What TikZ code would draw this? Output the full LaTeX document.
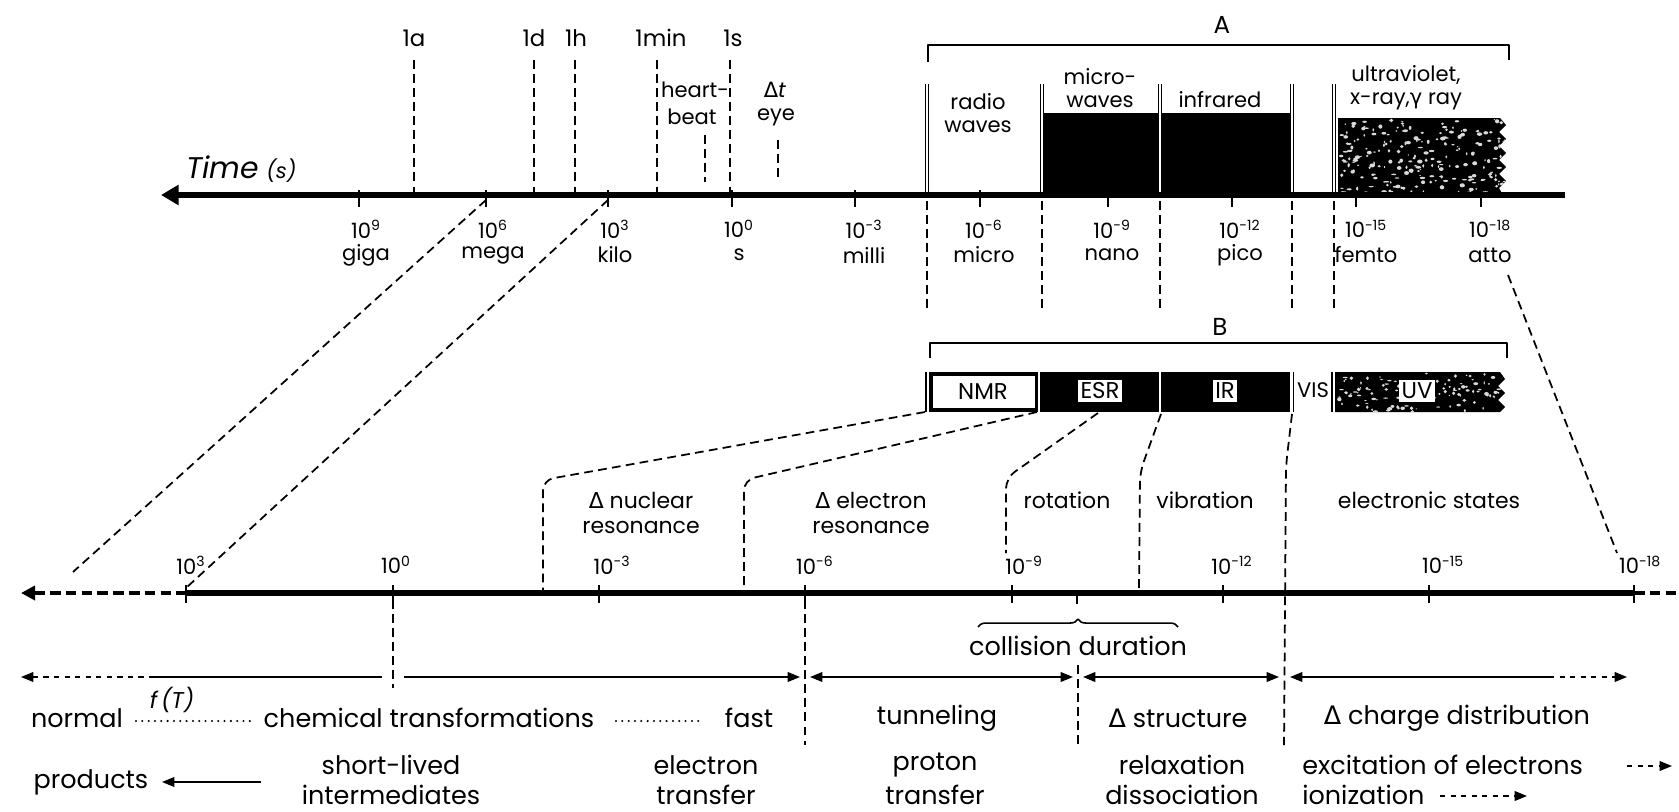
\documentclass[tikz,border=0pt]{standalone}
\usepackage{fontspec}
\setmainfont{Poppins}
\newfontfamily\grk{DejaVu Sans}
\usetikzlibrary{arrows.meta,decorations.pathreplacing}
\newcommand{\dlt}{{\grk Δ}}
\newcommand{\gmm}{{\grk γ}}
\newcommand{\tp}[1]{10\textsuperscript{#1}}
\tikzset{
  ax/.style={line width=3.2pt},
  axd/.style={line width=2.6pt, dash pattern=on 6pt off 3pt},
  tk/.style={line width=1.1pt},
  gd/.style={line width=1pt, dash pattern=on 5pt off 3pt},
  ln/.style={line width=0.9pt},
  lbl/.style={font=\fontsize{12}{14}\selectfont, inner sep=0pt},
  spec/.style={font=\fontsize{12}{14}\selectfont, inner sep=0pt},
  mid/.style={font=\fontsize{12.5}{14}\selectfont, inner sep=0pt},
  low/.style={font=\fontsize{14.5}{16}\selectfont, inner sep=0pt},
  bl/.style={font=\fontsize{13}{14}\selectfont, inner sep=1.5pt},
  dots/.style={line width=1.3pt, dash pattern=on 0pt off 3.6pt, line cap=round},
  >={Triangle[length=7pt,width=5.5pt]}
}
\begin{document}
\begin{tikzpicture}[x=0.02cm,y=-0.02cm,line join=round]
\useasboundingbox (0,0) rectangle (1679,811);
\fill[white] (0,0) rectangle (1679,811);

% ---------------- spectrum A ----------------
\fill (1044,113) rectangle (1290,195);
\begin{scope}
  \clip (1338,118) -- (1500,118) -- (1506,125) -- (1499,132) -- (1506,139) -- (1499,146) -- (1506,153) -- (1499,160) -- (1506,167) -- (1499,174) -- (1506,181) -- (1499,188) -- (1503,195) -- (1338,195) -- cycle;
  \fill (1330,110) rectangle (1510,200);
  \pgfmathsetseed{12}
  \foreach \i in {1,...,230}{
    \pgfmathsetmacro{\rx}{1340+165*rnd}
    \pgfmathsetmacro{\ry}{119+75*rnd}
    \pgfmathsetmacro{\rr}{0.4+1.2*rnd}
    \pgfmathsetmacro{\rs}{0.3+0.9*rnd}
    \fill[white!85!black] (\rx,\ry) ellipse ({\rr pt} and {\rs pt});
  }
\end{scope}
\foreach \x in {927,1042,1160,1292,1334}{
  \fill[white] (\x-1.8,84) rectangle (\x+1.8,195);
  \draw[line width=0.7pt] (\x-1.8,84) -- (\x-1.8,195) (\x+1.8,84) -- (\x+1.8,195);
}
\node[spec, align=center] (radio) at (978,113) {radio\\[-1pt]waves};
\node[spec, align=center] (micro) at (1100,88) {micro-\\[-1pt]waves};
\node[spec] (infra) at (1220,100) {infrared};
\node[spec, align=center] (uvt) at (1406,88) {ultraviolet,\\[-1pt]x-ray,\gmm{} ray};
\draw[ln] (928,62) -- (928,45) -- (1509,45) -- (1509,60);
\node[spec, font=\fontsize{14}{16}\selectfont] (labA) at (1222,25) {A};
\foreach \x in {927,1042,1160,1292,1334} \draw[gd] (\x,201) -- (\x,312);

% ---------------- top axis ----------------
\coordinate (tL) at (161,195);
\coordinate (tR) at (1565,195);
\draw[ax, {Triangle[length=10pt,width=11pt]}-] (tL) -- (tR);
\node[font=\fontsize{17}{20}\selectfont\itshape, inner sep=0pt, anchor=base west] (time) at (186,178) {Time};
\node[font=\fontsize{12}{14}\selectfont\itshape, inner sep=0pt, anchor=base west] (unit) at (266,178) {(s)};
\foreach \x in {359,486,608,732,855,980,1108,1232,1356,1481} \draw[tk] (\x,190) -- (\x,207);
\foreach \x/\e/\w [count=\i] in {366/9/giga, 493/6/mega, 615/3/kilo, 739/0/s, 864/-3/milli, 984/-6/micro, 1112/-9/nano, 1240/-12/pico, 1366/-15/femto, 1490/-18/atto}{
  \node[lbl] (te\i) at (\x,229) {\tp{\e}};
  \node[lbl] (tw\i) at (\x,255) {\w};
}
\foreach \x/\t/\lx in {414/1a/414, 534/1d/534, 575/1h/576, 657/1min/661, 730/1s/733}{
  \node[lbl, font=\fontsize{13}{14}\selectfont] at (\lx,38) {\t};
  \draw[gd] (\x,60) -- (\x,193);
}
\node[lbl] (heart) at (695,90) {heart-};
\node[lbl] (beat) at (692,117) {beat};
\draw[gd] (705,135) -- (705,182);
\node[lbl] (dt) at (775,90) {\dlt\textit{t}};
\node[lbl] (eye) at (776,117) {eye};
\draw[gd] (778,140) -- (778,182);

% ---------------- spectrum B ----------------
\draw[ln] (930,358) -- (930,343) -- (1507,343) -- (1507,358);
\node[spec, font=\fontsize{14}{16}\selectfont] (labB) at (1220,327) {B};
\fill (925,372) rectangle (1290,412);
\fill[white] (933,376) rectangle (1035,408);
\fill[white] (926.8,372) rectangle (928.8,412);
\fill[white] (1038.3,372) rectangle (1039.8,412);
\fill[white] (1158.5,372) rectangle (1160.5,412);
\draw[ln] (1293.5,372) -- (1293.5,412);
\draw[line width=0.7pt] (1332,372) -- (1332,412);
\begin{scope}
  \clip (1335,372) -- (1500,372) -- (1505,379) -- (1498,386) -- (1505,393) -- (1498,400) -- (1505,407) -- (1500,412) -- (1335,412) -- cycle;
  \fill (1330,365) rectangle (1510,420);
  \pgfmathsetseed{5}
  \foreach \i in {1,...,110}{
    \pgfmathsetmacro{\rx}{1337+165*rnd}
    \pgfmathsetmacro{\ry}{373+39*rnd}
    \pgfmathsetmacro{\rr}{0.4+1.1*rnd}
    \pgfmathsetmacro{\rs}{0.3+0.8*rnd}
    \fill[white!85!black] (\rx,\ry) ellipse ({\rr pt} and {\rs pt});
  }
\end{scope}
\node[bl] (nmr) at (983,392) {NMR};
\node[bl, fill=white] (esr) at (1100,391) {ESR};
\node[bl, fill=white] (ir) at (1225,391) {IR};
\node[bl, font=\fontsize{12}{13}\selectfont, inner sep=0pt] (vis) at (1313,390) {VIS};
\node[bl, fill=white] (uv) at (1417,391) {UV};

\draw[gd, rounded corners=6pt] (925,412) -- (543,480) -- (543,591);
\draw[gd, rounded corners=6pt] (1037,412) -- (744,480) -- (744,591);
\draw[gd, rounded corners=6pt] (1098,413) -- (1006,478) -- (1006,553);
\draw[gd, rounded corners=6pt] (1161,414) -- (1140,472) -- (1139,591);
\draw[gd, rounded corners=6pt] (1292,414) -- (1286,465) -- (1284,745);
\draw[gd] (1508,275) -- (1617,553);

% long diagonals
\draw[gd] (486,200) -- (73,572);
\draw[gd] (608,200) -- (186,588);

% ---------------- lower axis ----------------
\draw[ax] (186,593) -- (1634,593);
\draw[axd, {Triangle[length=8pt,width=8pt]}-] (21,593) -- (186,593);
\draw[axd] (1634,593) -- (1690,593);
\foreach \x in {186,393,599,805,1012,1223,1429,1634} \draw[tk] (\x,585) -- (\x,603);
\draw[tk] (1077,593) -- (1077,604);
\foreach \x/\e [count=\i] in {191/3, 396/0, 612/-3, 815/-6, 1024/-9, 1232/-12, 1443/-15, 1640/-18}
  \node[lbl] (le\i) at (\x,565) {\tp{\e}};

\node[mid, align=center] (nuc) at (641,513) {\dlt{} nuclear\\resonance};
\node[mid, align=center] (ele) at (871,513) {\dlt{} electron\\resonance};
\node[mid] (rot) at (1067,500) {rotation};
\node[mid] (vib) at (1205,500) {vibration};
\node[mid] (est) at (1429,500) {electronic states};

\draw[ln, decorate, decoration={brace, amplitude=4.5pt}] (978,627) -- (1178,627);
\node[low] (coll) at (1078,646) {collision duration};

% arrow row
\draw[ln, dashed, <-] (21,677) -- (150,677);
\draw[ln] (150,677) -- (382,677);
\draw[ln, ->] (404,677) -- (800,677);
\draw[ln, <->] (810,677) -- (1073,677);
\draw[ln, <->] (1083,677) -- (1279,677);
\draw[ln, <-] (1290,677) -- (1549,677);
\draw[ln, dashed, ->] (1549,677) -- (1627,677);
\draw[gd] (393,600) -- (393,688);
\draw[gd] (805,600) -- (805,745);
\draw[gd] (1078,665) -- (1078,748);

% text rows
\node[low] (normal) at (77,718) {normal};
\draw[dots] (136,721) -- (254,721);
\node[font=\fontsize{13}{14}\selectfont\itshape, inner sep=0pt] (fT) at (172,700) {f\,(T)};
\node[low] (chem) at (429,718) {chemical transformations};
\draw[dots] (616,721) -- (703,721);
\node[low] (fast) at (749,718) {fast};
\node[low] (tun) at (937,718) {tunneling};
\node[low] (dstr) at (1178,718) {\dlt{} structure};
\node[low] (dchg) at (1457,718) {\dlt{} charge distribution};

\node[low] (prod) at (91,782) {products};
\draw[ln, ->] (261,782) -- (162,782);
\node[low] (sl1) at (391,765) {short-lived};
\node[low] (sl2) at (391,795) {intermediates};
\node[low] (et1) at (706,765) {electron};
\node[low] (et2) at (706,795) {transfer};
\node[low] (pt1) at (935,765) {proton};
\node[low] (pt2) at (935,795) {transfer};
\node[low] (rd1) at (1182,765) {relaxation};
\node[low] (rd2) at (1182,795) {dissociation};
\node[low, anchor=west] (ex) at (1302,765) {excitation of electrons};
\draw[ln, dashed, ->] (1627,766) -- (1672,766);
\node[low, anchor=west] (ion) at (1302,795) {ionization};
\draw[ln, dashed, ->] (1440,796) -- (1527,796);
\end{tikzpicture}
\end{document}
